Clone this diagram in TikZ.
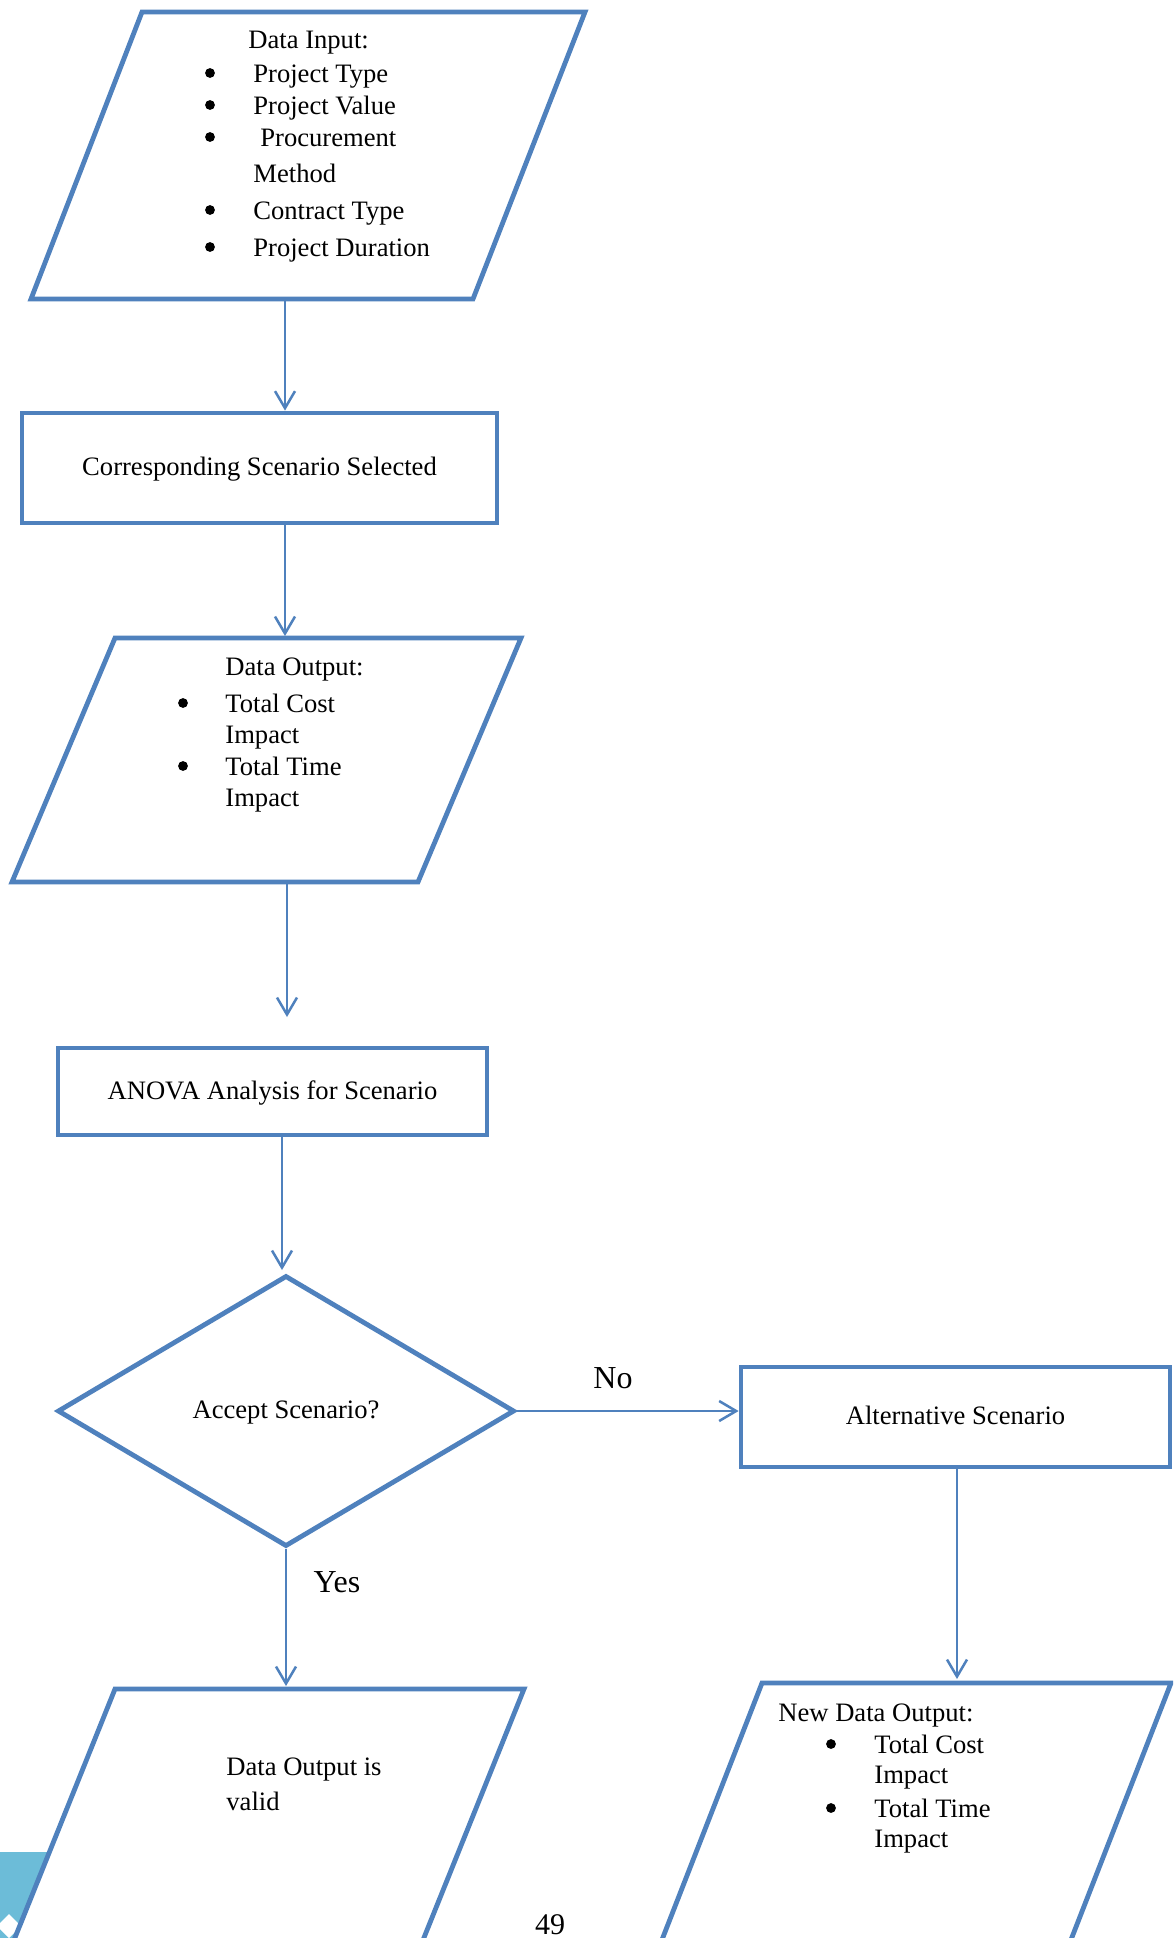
\documentclass[tikz,border=0pt]{standalone}
\usepackage{fontspec}
\setmainfont{Liberation Serif}
\usetikzlibrary{arrows.meta,shapes.geometric}
\definecolor{fc}{HTML}{4F81BD}
\definecolor{cy}{HTML}{6CBCD8}
\newcommand\fsz{\fontsize{13.3}{16}\selectfont}
\newcommand\fbig{\fontsize{16}{19}\selectfont}
\begin{document}
\begin{tikzpicture}[x=0.5pt,y=-0.5pt,
  box/.style={draw=fc,line width=2.4pt,fill=white,inner sep=0pt,font=\fsz,line join=miter,text height=0.97em,text depth=0.22em},
  para/.style={draw=fc,line width=2.4pt,fill=white,line join=miter},
  conn/.style={draw=fc,line width=1.25pt,-{Straight Barb[length=8.5pt,width=10pt]}},
  lbl/.style={inner sep=0pt,anchor=base west,font=\fsz},
  dot/.style={circle,fill=black,inner sep=0pt,minimum size=4.9pt},
  big/.style={inner sep=0pt,anchor=base,font=\fbig}]
\useasboundingbox (0,0) rectangle (1173,1938);
\clip (0,0) rectangle (1173,1938);
\fill[white] (0,0) rectangle (1173,1938);
% page decoration, bottom left
\fill[cy] (0,1852) rectangle (70,1938);
\fill[white] (9,1914) -- (21,1926) -- (9,1938) -- (-3,1926) -- cycle;
% parallelograms
\draw[para] (142,12) -- (585,12) -- (473,299) -- (31,299) -- cycle;
\draw[para] (115,638) -- (521,638) -- (418,882) -- (12,882) -- cycle;
\draw[para] (115,1689) -- (524,1689) -- (419,1950) -- (10,1950) -- cycle;
\draw[para] (762,1683) -- (1171,1683) -- (1067,1950) -- (658,1950) -- cycle;
% boxes
\node[box,minimum width=237.5pt,minimum height=55pt] (sel) at (259.5,468) {Corresponding Scenario Selected};
\node[box,minimum width=214.5pt,minimum height=43.5pt] (anova) at (272.5,1091.5) {ANOVA Analysis for Scenario};
\node[box,diamond,minimum width=228.5pt,minimum height=135.5pt] (acc) at (286,1411) {Accept Scenario?};
\node[box,minimum width=214.5pt,minimum height=50pt] (alt) at (955.5,1417) {Alternative Scenario};
% data input text
\node[lbl] (in0) at (248,48) {Data Input:};
\node[dot] (inb1) at (210,73) {};
\node[lbl] (in1) at (253,82) {Project Type};
\node[dot] (inb2) at (210,105) {};
\node[lbl] (in2) at (253,114) {Project Value};
\node[dot] (inb3) at (210,137) {};
\node[lbl] (in3) at (260,146) {Procurement};
\node[lbl] (in4) at (253,182) {Method};
\node[dot] (inb5) at (210,210) {};
\node[lbl] (in5) at (253,219) {Contract Type};
\node[dot] (inb6) at (210,247) {};
\node[lbl] (in6) at (253,256) {Project Duration};
% data output text
\node[lbl] (out0) at (225,675) {Data Output:};
\node[dot] (outb1) at (183,703) {};
\node[lbl] (out1) at (225,712) {Total Cost};
\node[lbl] (out2) at (225,743) {Impact};
\node[dot] (outb3) at (183,766) {};
\node[lbl] (out3) at (225,775) {Total Time};
\node[lbl] (out4) at (225,806) {Impact};
% valid text
\node[lbl] (val1) at (226,1775) {Data Output is};
\node[lbl] (val2) at (226,1810) {valid};
% new data output text
\node[lbl] (new0) at (778,1721) {New Data Output:};
\node[dot] (newb1) at (831,1744) {};
\node[lbl] (new1) at (874,1753) {Total Cost};
\node[lbl] (new2) at (874,1783) {Impact};
\node[dot] (newb3) at (831,1808) {};
\node[lbl] (new3) at (874,1817) {Total Time};
\node[lbl] (new4) at (874,1847) {Impact};
% labels
\node[big] (no) at (613,1388) {No};
\node[big] (yes) at (337,1592) {Yes};
\node[inner sep=0pt,anchor=base,font=\fontsize{15}{18}\selectfont] (pg) at (550,1934) {49};
% connectors
\coordinate (inS) at (285,299);
\draw[conn] (inS) -- (inS |- sel.north);
\coordinate (outT) at (285,636);
\draw[conn] (outT |- sel.south) -- (outT);
\coordinate (outS) at (287,882);
\coordinate (aE) at (287,1017);
\draw[conn] (outS) -- (aE);
\coordinate (dE) at (282,1270);
\draw[conn] (anova.south -| dE) -- (dE);
\draw[conn] (acc.east) -- (acc.east -| alt.west);
\coordinate (nE) at (957,1679);
\draw[conn] (alt.south -| nE) -- (nE);
\coordinate (vE) at (286,1686);
\draw[conn] (acc.south) -- (vE);
\end{tikzpicture}
\end{document}
